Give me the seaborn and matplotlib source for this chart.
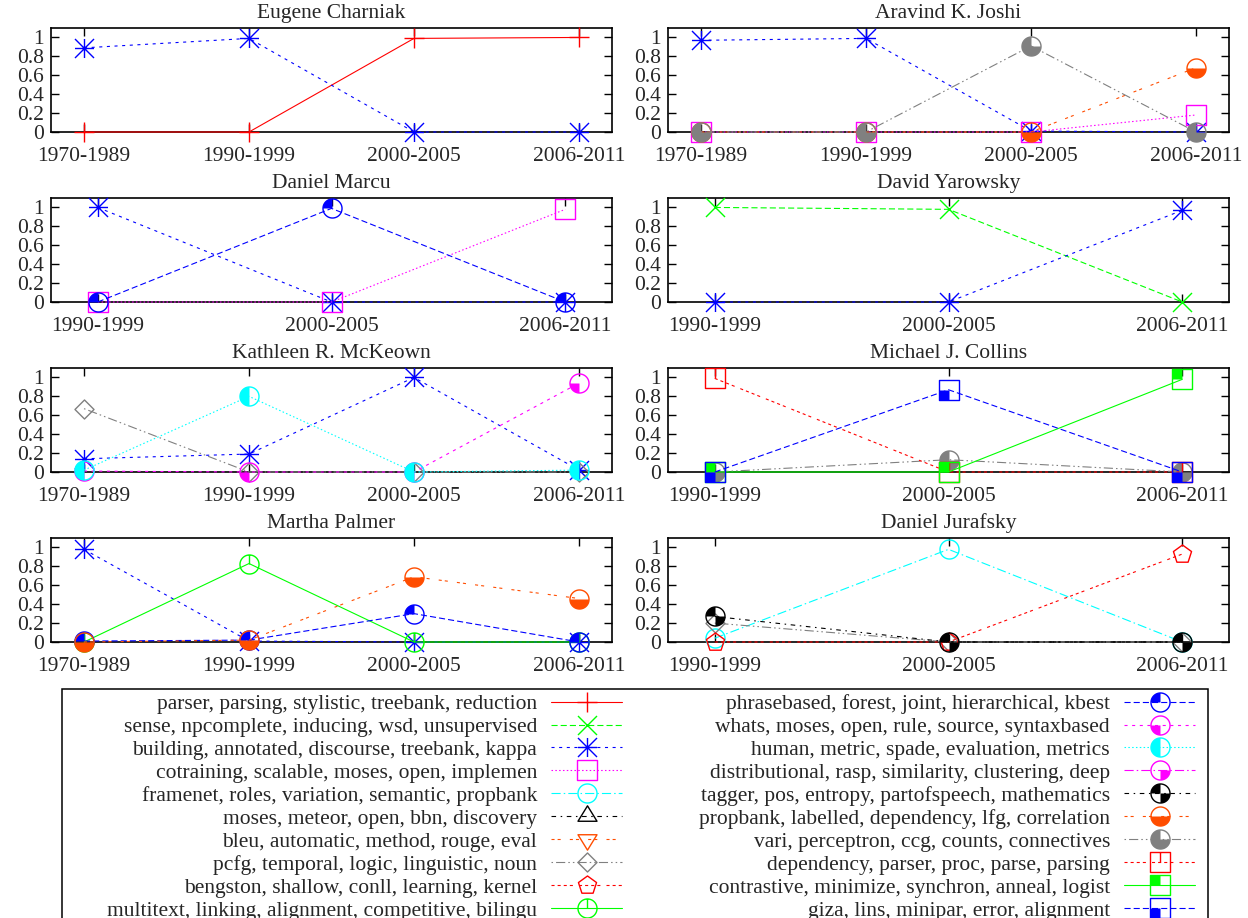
import numpy as np
import matplotlib
matplotlib.use('Agg')
import matplotlib.pyplot as plt
from matplotlib.path import Path
from matplotlib.lines import Line2D
from matplotlib.patches import Rectangle
import seaborn as sns

periods4 = ['1970-1989', '1990-1999', '2000-2005', '2006-2011']
periods3 = ['1990-1999', '2000-2005', '2006-2011']

topics = ['parser, parsing, stylistic, treebank, reduction',
          'sense, npcomplete, inducing, wsd, unsupervised',
          'building, annotated, discourse, treebank, kappa',
          'cotraining, scalable, moses, open, implemen',
          'framenet, roles, variation, semantic, propbank',
          'moses, meteor, open, bbn, discovery',
          'bleu, automatic, method, rouge, eval',
          'pcfg, temporal, logic, linguistic, noun',
          'bengston, shallow, conll, learning, kernel',
          'multitext, linking, alignment, competitive, bilingu',
          'phrasebased, forest, joint, hierarchical, kbest',
          'whats, moses, open, rule, source, syntaxbased',
          'human, metric, spade, evaluation, metrics',
          'distributional, rasp, similarity, clustering, deep',
          'tagger, pos, entropy, partofspeech, mathematics',
          'propbank, labelled, dependency, lfg, correlation',
          'vari, perceptron, ccg, counts, connectives',
          'dependency, parser, proc, parse, parsing',
          'contrastive, minimize, synchron, anneal, logist',
          'giza, lins, minipar, error, alignment']

# topic number as in the key -> share per period
charniak = {1: [0, 0, 0.99, 1.0], 3: [0.89, 0.99, 0, 0]}
joshi = {3: [0.97, 0.99, 0.01, 0], 4: [0, 0, 0, 0.18],
         16: [0, 0, 0, 0.68], 17: [0, 0, 0.91, 0]}
marcu = {3: [1.0, 0, 0], 4: [0, 0, 0.98], 11: [0, 0.99, 0]}
yarowsky = {2: [1.0, 0.98, 0], 3: [0, 0, 0.97]}
mckeown = {3: [0.14, 0.19, 1.0, 0.02], 8: [0.67, 0, 0, 0],
           12: [0.01, 0, 0, 0.94], 13: [0.02, 0.8, 0, 0.02]}
collins = {17: [0, 0.13, 0], 18: [0.99, 0, 0],
           19: [0, 0, 0.98], 20: [0, 0.87, 0]}
palmer = {3: [0.98, 0.01, 0, 0], 10: [0, 0.83, 0, 0],
          11: [0.01, 0.02, 0.3, 0], 16: [0, 0.02, 0.69, 0.46]}
jurafsky = {5: [0.04, 0.98, 0], 8: [0.2, 0, 0],
            9: [0, 0, 0.93], 15: [0.27, 0, 0]}

panels = [('Eugene Charniak', periods4, charniak),
          ('Aravind K. Joshi', periods4, joshi),
          ('Daniel Marcu', periods3, marcu),
          ('David Yarowsky', periods3, yarowsky),
          ('Kathleen R. McKeown', periods4, mckeown),
          ('Michael J. Collins', periods3, collins),
          ('Martha Palmer', periods4, palmer),
          ('Daniel Jurafsky', periods3, jurafsky)]

topic_colors = ['#ff0000', '#00ff00', '#0000ff', '#ff00ff', '#00ffff',
                '#000000', '#ff4d00', '#808080', '#ff0000', '#00ff00',
                '#0000ff', '#ff00ff', '#00ffff', '#ff00ff', '#000000',
                '#ff4d00', '#808080', '#ff0000', '#00ff00', '#0000ff']
topic_points = ['plus', 'cross', 'star', 'box', 'circle', 'triu', 'trid',
                'dia', 'pent', 'c0', 'c2', 'c4', 'c6', 'c8', 'c10', 'c12',
                'c14', 's0', 's2', 's4']
# gnuplot postscript dash patterns, cycling every 9 line types
gp_dashes = [None, (4, 2), (2, 3), (1, 1.5), (6, 2, 1, 2), (3, 3, 1, 3),
             (2, 2, 2, 6), (1, 2, 6, 2, 1, 2), (2, 2, 2, 2, 2, 2, 2, 4)]

W, H = 1248, 918
FS = 15.5
EM = FS * 100 / 72
LW = 0.8
MEW = 1.0
MS = 13.7
DL = 1.1

sns.set_style('ticks')
plt.rcParams['font.family'] = ['Liberation Serif', 'DejaVu Serif']
plt.rcParams['lines.scale_dashes'] = False
plt.rcParams['axes.edgecolor'] = 'black'


def ring(a0, a1, n=31):
    t = np.radians(np.linspace(a0, a1, n))
    return np.column_stack([np.cos(t), np.sin(t)])


def poly(pts):
    pts = np.vstack([pts, pts[:1]])
    codes = [Path.MOVETO] + [Path.LINETO] * (len(pts) - 2) + [Path.CLOSEPOLY]
    return Path(pts, codes)


def segs(*pairs):
    verts, codes = [], []
    for a, b in pairs:
        verts += [a, b]
        codes += [Path.MOVETO, Path.LINETO]
    return Path(verts, codes)


def wedge(a0, a1):
    return poly(np.vstack([[0, 0], ring(a0, a1)]))


circle = poly(ring(0, 360, 121)[:-1])
square = poly([[-1, -1], [1, -1], [1, 1], [-1, 1]])
plus = segs(((-1, 0), (1, 0)), ((0, -1), (0, 1)))
cross = segs(((-1, -1), (1, 1)), ((-1, 1), (1, -1)))
radius_up = segs(((0, 0), (0, 1)))

outlines = {
    'plus': plus, 'cross': cross,
    'star': Path.make_compound_path(plus, cross),
    'box': square, 'circle': circle,
    'triu': poly([[0, 1.12], [-1, -0.5], [1, -0.5]]),
    'trid': poly([[0, -1.12], [-1, 0.5], [1, 0.5]]),
    'dia': poly([[0, 1], [-1, 0], [0, -1], [1, 0]]),
    'pent': poly(ring(90, 450, 6)[:-1]),
    'c0': Path.make_compound_path(circle, radius_up),
    's0': Path.make_compound_path(square, radius_up),
}
fills = {
    'c2': wedge(90, 180), 'c4': wedge(180, 270), 'c6': wedge(90, 270),
    'c8': wedge(270, 360),
    'c10': Path.make_compound_path(wedge(90, 180), wedge(270, 360)),
    'c12': wedge(180, 360), 'c14': wedge(90, 360),
    's2': poly([[-1, 0], [0, 0], [0, 1], [-1, 1]]),
    's4': poly([[-1, -1], [0, -1], [0, 0], [-1, 0]]),
}


def topic_style(k):
    kind = topic_points[k - 1]
    if kind in fills:
        outline = circle if kind.startswith('c') else square
        fill = fills[kind]
    else:
        outline = outlines[kind]
        fill = None
    ms = MS * 1.12 if kind in ('triu', 'trid') else MS
    dash = gp_dashes[(k - 1) % 9]
    ls = '-' if dash is None else (0, tuple(d * DL for d in dash))
    return topic_colors[k - 1], ls, outline, fill, ms


def draw_topic(ax, x, y, k):
    color, ls, outline, fill, ms = topic_style(k)
    z = 3 + k * 0.01
    sns.lineplot(x=x, y=y, ax=ax, color=color, linestyle=ls, linewidth=LW,
                 marker=outline, markersize=ms, markerfacecolor='none',
                 markeredgecolor=color, markeredgewidth=MEW,
                 estimator=None, sort=False, clip_on=False, zorder=z)
    if fill is not None:
        ax.plot(x, y, linestyle='none', marker=fill, markersize=ms,
                markerfacecolor=color, markeredgecolor='none',
                clip_on=False, zorder=z)


def key_handle(k):
    color, ls, outline, fill, ms = topic_style(k)
    line = Line2D([], [], color=color, linestyle=ls, linewidth=LW,
                  marker=outline, markersize=ms, markerfacecolor='none',
                  markeredgecolor=color, markeredgewidth=MEW)
    if fill is None:
        return line
    dot = Line2D([], [], linestyle='none', marker=fill, markersize=ms,
                 markerfacecolor=color, markeredgecolor='none')
    return (dot, line)


fig = plt.figure(figsize=(W / 100, H / 100), dpi=100)
col_left = [51, 668]
row_top = [28, 198, 368, 538]
ax_w, ax_h = 561, 104

for i, (name, periods, shares) in enumerate(panels):
    r, c = divmod(i, 2)
    ax = fig.add_axes([col_left[c] / W, 1 - (row_top[r] + ax_h) / H,
                       ax_w / W, ax_h / H])
    x = list(range(len(periods)))
    for k in sorted(shares):
        draw_topic(ax, x, shares[k], k)
    ax.set_xlim(-0.2, len(periods) - 0.8)
    ax.set_ylim(0, 1.1)
    ax.set_xticks(x)
    ax.set_xticklabels(periods)
    ax.set_yticks([0, 0.2, 0.4, 0.6, 0.8, 1])
    ax.set_yticklabels(['0', '0.2', '0.4', '0.6', '0.8', '1'])
    ax.tick_params(direction='in', top=True, right=True, length=6,
                   width=1.0, labelsize=FS, color='black')
    ax.tick_params(axis='x', pad=11)
    ax.tick_params(axis='y', pad=5)
    for sp in ax.spines.values():
        sp.set_linewidth(1.2)
    ax.set_title(name, fontsize=FS, pad=7)

for cols, right in ((range(1, 11), 622), (range(11, 21), 1195)):
    fig.legend([key_handle(k) for k in cols], [topics[k - 1] for k in cols],
               loc='upper right', bbox_to_anchor=(right / W, 1 - 694 / H),
               markerfirst=False, frameon=False, fontsize=FS,
               handlelength=71 / EM, handletextpad=14 / EM,
               labelspacing=0.135, borderpad=0, borderaxespad=0)

fig.add_artist(Rectangle((62 / W, 1 - 945 / H), (1208 - 62) / W, 256 / H,
                         transform=fig.transFigure, fill=False,
                         edgecolor='black', linewidth=1.1))

fig.savefig('out.png', dpi=100)
